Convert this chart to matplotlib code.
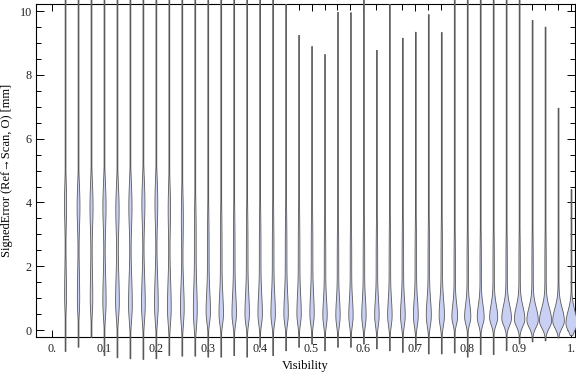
import numpy as np
import matplotlib.pyplot as plt

plt.rcParams['font.family'] = ['Liberation Serif', 'DejaVu Serif']

# one violin per visibility bin
visibility = [0.025, 0.05, 0.075, 0.1, 0.125, 0.15, 0.175, 0.2, 0.225, 0.25,
              0.275, 0.3, 0.325, 0.35, 0.375, 0.4, 0.425, 0.45, 0.475, 0.5,
              0.525, 0.55, 0.575, 0.6, 0.625, 0.65, 0.675, 0.7, 0.725, 0.75,
              0.775, 0.8, 0.825, 0.85, 0.875, 0.9, 0.925, 0.95, 0.975, 1.0]

# extent of each distribution (mm)
err_min = [-0.65, -0.52, -0.21, -0.78, -0.85, -0.88, -0.9, -0.88, -0.78, -0.8,
           -0.8, -0.83, -0.83, -0.78, -0.83, -0.52, -0.78, -0.63, -0.52, -0.42,
           -0.63, -0.52, -0.52, -0.42, -0.57, -0.63, -0.68, -0.6, -0.73, -0.73,
           -0.7, -0.83, -0.75, -0.75, -0.63, -0.42, -0.35, -0.32, -0.23, -0.15]
err_max = [10.6, 10.6, 10.6, 10.6, 10.6, 10.6, 10.6, 10.6, 10.6, 10.6,
           10.6, 10.6, 10.6, 10.6, 10.6, 10.6, 10.6, 10.22, 9.25, 8.9,
           8.65, 9.97, 9.96, 10.6, 8.78, 10.22, 9.16, 9.35, 9.9, 9.34,
           10.6, 10.6, 10.6, 10.6, 10.6, 10.6, 9.72, 9.51, 6.97, 4.42]

# main density mode near zero
mode = [1.1, 1.0, 1.0, 0.9, 0.9, 0.8, 0.8, 0.8, 0.7, 0.7,
        0.6, 0.55, 0.5, 0.5, 0.5, 0.5, 0.5, 0.5, 0.5, 0.5,
        0.45, 0.45, 0.45, 0.45, 0.45, 0.45, 0.45, 0.45, 0.45, 0.45,
        0.42, 0.42, 0.4, 0.4, 0.38, 0.35, 0.32, 0.3, 0.3, 0.22]
spread_lo = [0.5] * 11 + [0.3] * 19 + [0.22] * 10
spread_hi = [1.0] * 9 + [0.8] * 2 + [0.6] * 9 + [0.5] * 10 + [0.4] * 10
peak = [0.16, 0.2, 0.22, 0.28, 0.32, 0.32, 0.32, 0.32, 0.32, 0.32,
        0.32, 0.32, 0.33, 0.33, 0.33, 0.33, 0.33, 0.33, 0.32, 0.32,
        0.32, 0.32, 0.32, 0.32, 0.33, 0.33, 0.35, 0.36, 0.38, 0.4,
        0.44, 0.48, 0.54, 0.64, 0.78, 0.85, 0.93, 1.0, 0.98, 0.95]

# secondary (upper) density component
body_center = [4.0, 3.9, 3.9, 3.9, 3.8, 3.9, 4.0, 4.0, 3.8, 3.5,
               3.0] + [2.5] * 9 + [2.2] * 10 + [2.0] * 10
body_spread = [0.7, 0.7, 0.75, 0.75, 0.75, 0.75, 0.75, 0.75, 0.8, 0.9,
               1.1] + [1.4] * 9 + [1.3] * 10 + [1.2] * 8 + [1.0, 0.8]
body_peak = [0.18, 0.24, 0.26, 0.27, 0.28, 0.27, 0.26, 0.24, 0.2, 0.17,
             0.15] + [0.14] * 9 + [0.13] * 10 + [0.12] * 8 + [0.08, 0.06]

HALF_W = 0.0112
TAIL_W = 0.0008

fig = plt.figure(figsize=(5.76, 3.77), dpi=100)
ax = fig.add_axes([36 / 576, 1 - 337 / 377, 539 / 576, 333 / 377])

for i, x in enumerate(visibility):
    y = np.linspace(err_min[i], err_max[i], 800)
    s = np.where(y < mode[i], spread_lo[i], spread_hi[i])
    d = peak[i] * np.exp(-0.5 * ((y - mode[i]) / s) ** 2)
    d += body_peak[i] * np.exp(-0.5 * ((y - body_center[i]) / body_spread[i]) ** 2)
    w = np.maximum(d * HALF_W, TAIL_W)
    ax.fill_betweenx(y, x - w, x + w, facecolor='#c9d0f3', edgecolor='#5a5a5a',
                     linewidth=0.6, clip_on=False, zorder=3)

ax.set_xlim(-0.031, 1.0077)
ax.set_ylim(-0.215, 10.22)

xt = [0, 0.1, 0.2, 0.3, 0.4, 0.5, 0.6, 0.7, 0.8, 0.9, 1.0]
ax.set_xticks(xt)
ax.set_xticklabels(['0.', '0.1', '0.2', '0.3', '0.4', '0.5', '0.6', '0.7', '0.8', '0.9', '1.'])
ax.set_xticks([v for v in visibility if v not in xt], minor=True)
ax.set_yticks([0, 2, 4, 6, 8, 10])
ax.set_yticks([v * 0.5 for v in range(21) if v % 4 != 0], minor=True)

ax.tick_params(which='both', direction='in', top=True, right=True,
               labelsize=8.7, labelcolor='#222222', width=0.7)
ax.tick_params(axis='y', which='major', length=6, pad=3)
ax.tick_params(axis='y', which='minor', length=3.5)
ax.tick_params(axis='x', which='major', length=5, pad=4)
ax.tick_params(axis='x', which='minor', length=4)
for sp in ax.spines.values():
    sp.set_linewidth(0.8)

ax.set_xlabel('Visibility', fontsize=9, labelpad=4)
ax.set_ylabel('SignedError (Ref\u2192Scan, O) [mm]', fontsize=9, labelpad=5)

fig.savefig('out.png', dpi=100)
